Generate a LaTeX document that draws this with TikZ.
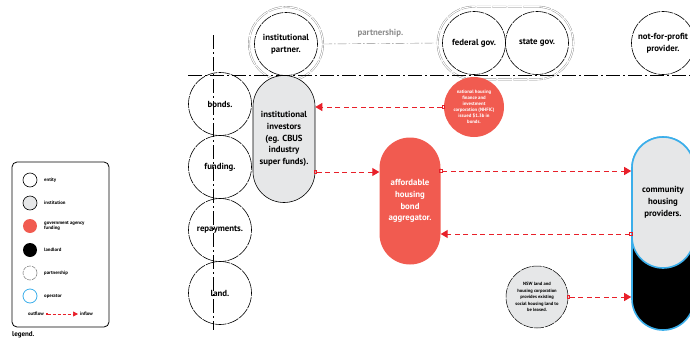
\documentclass[tikz,border=0pt]{standalone}
\usepackage{fontspec}
\setmainfont{PT Sans}
\usetikzlibrary{arrows.meta,positioning,fit}

\definecolor{bondred}{HTML}{F15B50}
\definecolor{flowred}{HTML}{E8202A}
\definecolor{opblue}{HTML}{3BAEEA}
\definecolor{instgrey}{HTML}{E6E7E8}
\definecolor{pshipgrey}{HTML}{8C8C8C}

\tikzset{
  lbl/.style={font=\bfseries\fontsize{8.8}{11.8}\selectfont, align=center, inner sep=0pt},
  tiny/.style={font=\bfseries\fontsize{4.8}{5.9}\selectfont, align=center, inner sep=0pt},
  entity/.style={circle, draw=black, line width=.6pt, dash pattern=on 12pt off 1pt,
    minimum size=63pt, lbl},
  institution/.style={rectangle, rounded corners=31pt, draw=black, line width=.6pt,
    fill=instgrey, minimum width=62pt, lbl},
  funder/.style={rectangle, rounded corners=30.5pt, fill=bondred, text=white,
    minimum width=61pt, lbl},
  pship/.style={draw=pshipgrey, double=white, double distance=1.1pt, line width=.4pt,
    dash pattern=on 14pt off 1.5pt},
  axis/.style={line width=.8pt, dash pattern=on 14pt off 3pt on 2pt off 3pt},
  flow/.style={draw=flowred, line width=1pt, dash pattern=on 5pt off 3.5pt,
    {Square[open,length=3.5pt,width=3.5pt,line width=.9pt,sep=-1.5pt]}-{Triangle[length=7pt,width=8pt]}},
}

\begin{document}
\begin{tikzpicture}[x=1pt, y=-1pt, node distance=63pt, on grid]
\useasboundingbox (0,0) rectangle (690,340);

% top row: partners and government
\node [entity] (partner) at (286,44) {institutional\\partner.};
\node [circle, pship, minimum size=74pt] (partnerring) at (partner) {};
\node [entity] (federal) at (474,43) {federal gov.};
\node [entity] (state) [right=of federal] {state gov.};
\node [pship, rounded corners=36pt, fit=(federal)(state), inner sep=4.5pt] (govring) {};
\node [entity] (notforprofit) at (663,43) {not-for-profit\\provider.};

\draw [pship, dash pattern=on 9pt off 2pt on 1.5pt off 2pt, double=none]
  (partnerring.east) -- node [above=6pt, lbl, text=pshipgrey] {partnership.} (govring.west);

% left column
\node [entity] (bonds) at (220,104) {bonds.};
\node [entity] (funding) [below=of bonds] {funding.};
\node [entity] (repayments) [below=of funding] {repayments.};
\node [entity] (land) [below=of repayments] {land.};

% main players
\node [institution, minimum height=127pt] (investors) at (284,139)
  {institutional\\investors\\(eg. CBUS\\industry\\super funds).};
\node [circle, fill=bondred, text=white, minimum size=60pt, tiny] (nhfic) at (474,107)
  {national housing\\finance and\\investment\\corporation (NHFIC)\\issued \$1.3b in\\bonds.};
\node [funder, minimum height=127pt] (aggregator) at (410,201)
  {affordable\\housing\\bond\\aggregator.};
\node [rectangle, rounded corners=31pt, fill=black, draw=opblue, line width=1.6pt,
  minimum width=62pt, minimum height=193pt] (commbase) at (663,233.5) {};
\node [institution, draw=opblue, line width=1.6pt, minimum height=131pt] (comm) at (663,202.5)
  {community\\housing\\providers.};
\node [circle, draw=black, line width=.5pt, dash pattern=on 10pt off 1pt, fill=instgrey,
  minimum size=62pt, tiny, font=\bfseries\fontsize{4.6}{6.6}\selectfont] (nsw) at (537,297)
  {NSW land and\\housing corporation\\provides existing\\social housing land to\\be leased.};

% axes
\draw [axis] (188,75) -- (690,75);
\draw [axis] (213,35) -- (213,330);

% money and land flows
\draw [flow] (nhfic.west) -- (nhfic.west -| investors.east);
\draw [flow] ([yshift=-33pt]investors.east) -- ([yshift=-33pt]investors.east -| aggregator.west);
\draw [flow] ([yshift=30pt]aggregator.east) -- ([yshift=30pt]aggregator.east -| comm.west);
\draw [flow] ([yshift=-33pt]aggregator.east -| comm.west) -- ([yshift=-33pt]aggregator.east);
\draw [flow] (nsw.east) -- (nsw.east -| commbase.west);

% legend
\node [draw=black, line width=.8pt, rounded corners=5pt, minimum width=97pt,
  minimum height=165pt] (legendbox) at (60.5,244.5) {};
\node [circle, draw=black, line width=.6pt, minimum size=14pt] (keyentity) at (30,180) {};
\node [circle, draw=black, line width=.6pt, fill=instgrey, minimum size=14pt] (keyinst) at (30,203) {};
\node [circle, fill=bondred, minimum size=14pt] (keyfund) at (30,226) {};
\node [circle, fill=black, minimum size=14pt] (keyland) at (30,250) {};
\node [circle, draw=pshipgrey, line width=.6pt, dash pattern=on 4pt off 1pt, minimum size=14pt] (keypship) at (30,273) {};
\node [circle, draw=opblue, line width=.8pt, minimum size=14pt] (keyop) at (30,296) {};
\node [tiny, anchor=west] at (44,180) {entity};
\node [tiny, anchor=west] at (44,203) {institution};
\node [tiny, anchor=west, align=left] at (44,226) {government agency\\funding};
\node [tiny, anchor=west] at (44,250) {landlord};
\node [tiny, anchor=west] at (44,273) {partnership};
\node [tiny, anchor=west] at (44,296) {operator};
\node [tiny, anchor=east] (keyout) at (44,314) {outflow};
\node [tiny, anchor=west] (keyin) at (80,314) {inflow};
\draw [flow, line width=.7pt, dash pattern=on 3pt off 2pt,
  {Square[open,length=2pt,width=2pt,sep=-1pt]}-{Triangle[length=5pt,width=5pt]}]
  ([xshift=3pt]keyout.east) -- ([xshift=-2pt]keyin.west);
\node [font=\bfseries\fontsize{7}{7}\selectfont, anchor=west, inner sep=0pt] at (12,335) {legend.};
\end{tikzpicture}
\end{document}
